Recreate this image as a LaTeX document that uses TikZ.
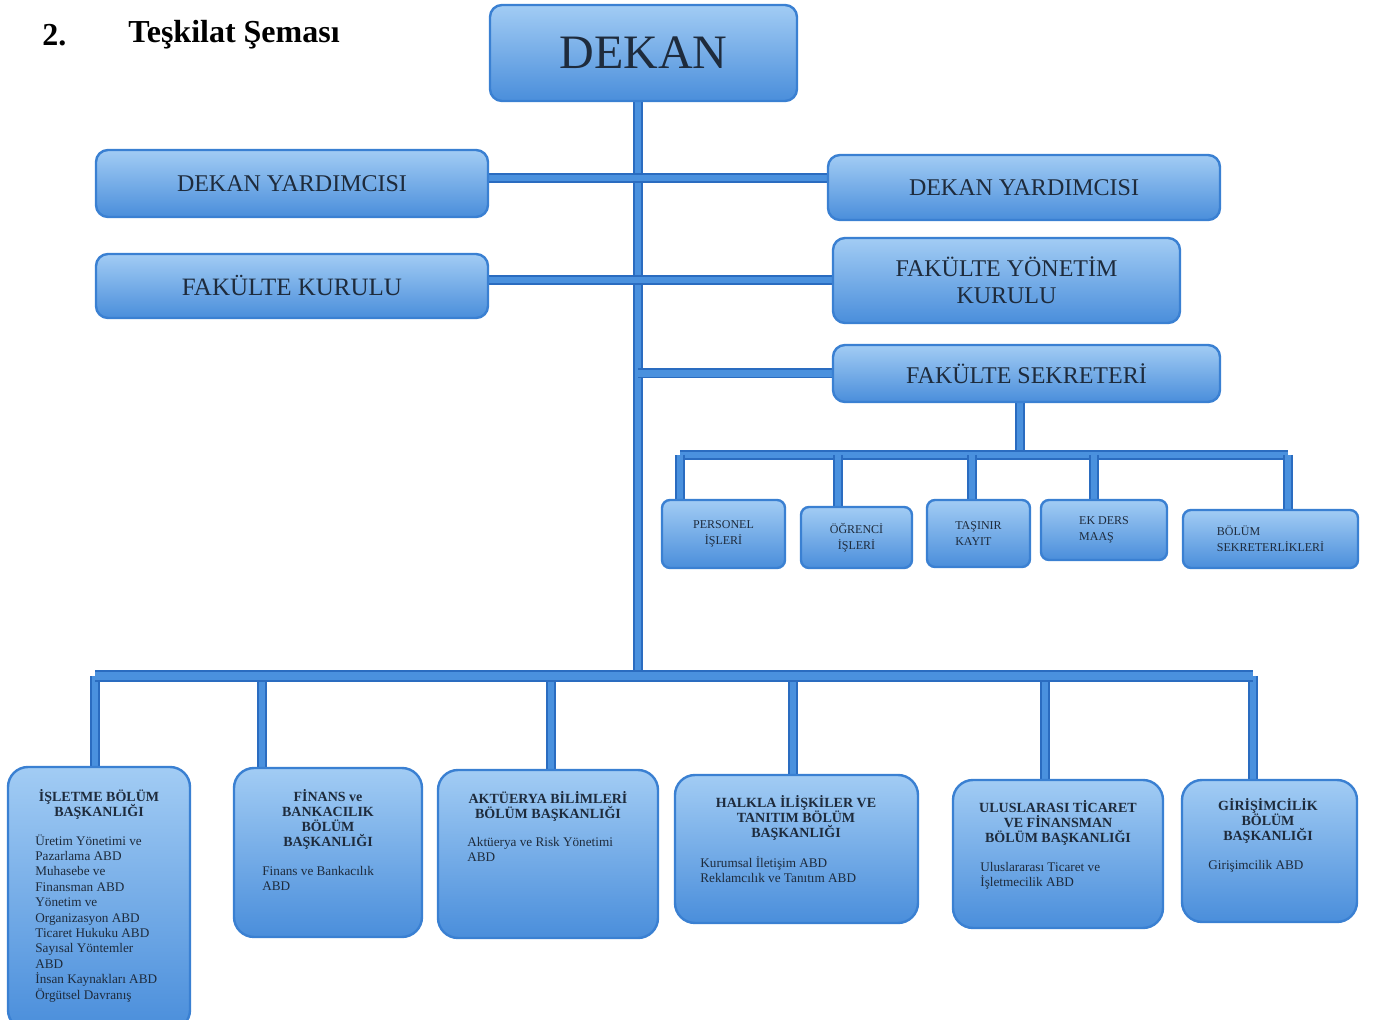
\documentclass[tikz,border=0pt]{standalone}
\usepackage{fontspec}
\setmainfont{Liberation Serif}
\usetikzlibrary{backgrounds}
\definecolor{boxtop}{HTML}{A2CCF4}
\definecolor{boxbot}{HTML}{4A8EDB}
\definecolor{boxedge}{HTML}{3A80D2}
\definecolor{conndark}{HTML}{2A6CC0}
\definecolor{connlight}{HTML}{4A91DE}
\definecolor{txt}{HTML}{1E2B3C}
\tikzset{
  box/.style={draw=boxedge, line width=1.2pt, top color=boxtop, bottom color=boxbot,
    inner sep=0pt, text=txt, align=center},
  bigbox/.style={box, rounded corners=6pt, font=\fontsize{12}{13.5}\selectfont},
  smallbox/.style={box, rounded corners=4pt, font=\fontsize{6}{8}\selectfont},
  unitbox/.style={box, rounded corners=10pt},
  hdr/.style={inner sep=0pt, text=txt, align=center, anchor=north,
    font=\bfseries\fontsize{7}{7.6}\selectfont},
  bodytxt/.style={inner sep=0pt, text=txt, align=left, anchor=north west,
    font=\fontsize{6.6}{7.7}\selectfont},
  conn/.style={draw=conndark, line width=0.9pt, double=connlight, double distance=3.2pt},
  thickconn/.style={conn, double distance=4pt},
}
\begin{document}
\begin{tikzpicture}[x=0.5pt, y=-0.5pt]
\useasboundingbox (0,0) rectangle (1373,1020);

% title
\node[anchor=west, inner sep=0pt, font=\bfseries\fontsize{16}{18}\selectfont] (num) at (42,35) {2.};
\node[anchor=west, inner sep=0pt, font=\bfseries\fontsize{16}{18}\selectfont] (title) at (128,35) {Teşkilat Şeması};

% top boxes
\node[box, rounded corners=6pt, minimum width=153.5pt, minimum height=48pt,
  font=\fontsize{24}{27}\selectfont] (dekan) at (643.5,53) {DEKAN};
\node[bigbox, minimum width=196pt, minimum height=33.5pt] (dyl) at (292,183.5) {DEKAN YARDIMCISI};
\node[bigbox, minimum width=196pt, minimum height=32.5pt] (dyr) at (1024,187.5) {DEKAN YARDIMCISI};
\node[bigbox, minimum width=196pt, minimum height=32pt, font=\fontsize{12.5}{14}\selectfont] (fk) at (292,286) {FAKÜLTE KURULU};
\node[bigbox, minimum width=173.5pt, minimum height=42.5pt] (fyk) at (1006.5,280.5) {FAKÜLTE YÖNETİM\\[0.2pt]KURULU};
\node[bigbox, minimum width=193.5pt, minimum height=28.5pt] (fs) at (1026.5,373.5) {FAKÜLTE SEKRETERİ};

% small boxes
\node[smallbox, minimum width=61.5pt, minimum height=34pt] (per) at (723.5,534) {PERSONEL\\İŞLERİ};
\node[smallbox, minimum width=55.5pt, minimum height=30.5pt] (ogr) at (856.5,537.5) {ÖĞRENCİ\\İŞLERİ};
\node[smallbox, minimum width=51.5pt, minimum height=33.5pt, align=left] (tas) at (978.5,533.5) {TAŞINIR\\KAYIT};
\node[smallbox, minimum width=63pt, minimum height=30pt, align=left] (ekd) at (1104,530) {EK DERS\\MAAŞ};
\node[smallbox, minimum width=87.5pt, minimum height=29pt, align=left] (bsek) at (1270.5,539) {BÖLÜM\\SEKRETERLİKLERİ};

% bottom unit boxes
\node[unitbox, minimum width=91pt, minimum height=131.5pt] (isl) at (99,898.5) {};
\node[unitbox, minimum width=94pt, minimum height=84.5pt] (fin) at (328,852.5) {};
\node[unitbox, minimum width=110pt, minimum height=84pt] (akt) at (548,854) {};
\node[unitbox, minimum width=121.5pt, minimum height=74pt] (hal) at (796.5,849) {};
\node[unitbox, minimum width=105pt, minimum height=74pt] (ulu) at (1058,854) {};
\node[unitbox, minimum width=87.5pt, minimum height=71pt] (gir) at (1269.5,851) {};

% unit texts
\node[hdr] (islh) at (99,789) {İŞLETME BÖLÜM\\BAŞKANLIĞI};
\node[bodytxt] (islb) at (35,834) {Üretim Yönetimi ve\\Pazarlama ABD\\Muhasebe ve\\Finansman ABD\\Yönetim ve\\Organizasyon ABD\\Ticaret Hukuku ABD\\Sayısal Yöntemler\\ABD\\İnsan Kaynakları ABD\\Örgütsel Davranış};
\node[hdr] (finh) at (328,789) {FİNANS ve\\BANKACILIK\\BÖLÜM\\BAŞKANLIĞI};
\node[bodytxt] (finb) at (262,866) {Finans ve Bankacılık\\ABD};
\node[hdr] (akth) at (548,791) {AKTÜERYA BİLİMLERİ\\BÖLÜM BAŞKANLIĞI};
\node[bodytxt] (aktb) at (467,837) {Aktüerya ve Risk Yönetimi\\ABD};
\node[hdr] (halh) at (796,795) {HALKLA İLİŞKİLER VE\\TANITIM BÖLÜM\\BAŞKANLIĞI};
\node[bodytxt] (halb) at (700,856) {Kurumsal İletişim ABD\\Reklamcılık ve Tanıtım ABD};
\node[hdr] (uluh) at (1058,800) {ULUSLARASI TİCARET\\VE FİNANSMAN\\BÖLÜM BAŞKANLIĞI};
\node[bodytxt] (ulub) at (980,862) {Uluslararası Ticaret ve\\İşletmecilik ABD};
\node[hdr] (girh) at (1268,798) {GİRİŞİMCİLİK\\BÖLÜM\\BAŞKANLIĞI};
\node[bodytxt] (girb) at (1208,860) {Girişimcilik ABD};

% junction coordinates
\coordinate (tbot) at (638,676);
\coordinate (bl) at (95,676);
\coordinate (br) at (1253,676);
\coordinate (sl) at (680,455);
\coordinate (sr) at (1288,455);
\coordinate (sm) at (1020,455);

\begin{scope}[on background layer]
  \fill[white] (0,0) rectangle (1373,1020);
  \draw[conn] (tbot |- dekan.south) -- (tbot);
  \draw[conn] ([yshift=2.75pt]dyl.east) -- ([yshift=2.75pt]dyl.east -| dyr.west);
  \draw[conn] ([yshift=3pt]fk.east) -- ([yshift=3pt]fk.east -| fyk.west);
  \draw[conn] (fs.west -| tbot) -- (fs.west);
  % secretary branch
  \draw[conn] (sm |- fs.south) -- (sm);
  \draw[conn] (sl) -- (sr);
  \draw[conn] (sl) -- (sl |- per.north);
  \draw[conn] (838,455) -- (838,455 |- ogr.north);
  \draw[conn] (972,455) -- (972,455 |- tas.north);
  \draw[conn] (1094,455) -- (1094,455 |- ekd.north);
  \draw[conn] (sr) -- (sr |- bsek.north);
  % bottom branch
  \draw[conn] (bl) -- (bl |- isl.north);
  \draw[conn] (262,676) -- (262,676 |- fin.north);
  \draw[conn] (551,676) -- (551,676 |- akt.north);
  \draw[conn] (793,676) -- (793,676 |- hal.north);
  \draw[conn] (1045,676) -- (1045,676 |- ulu.north);
  \draw[conn] (br) -- (br |- gir.north);
  \draw[thickconn] (bl) -- (br);
\end{scope}
\end{tikzpicture}
\end{document}
